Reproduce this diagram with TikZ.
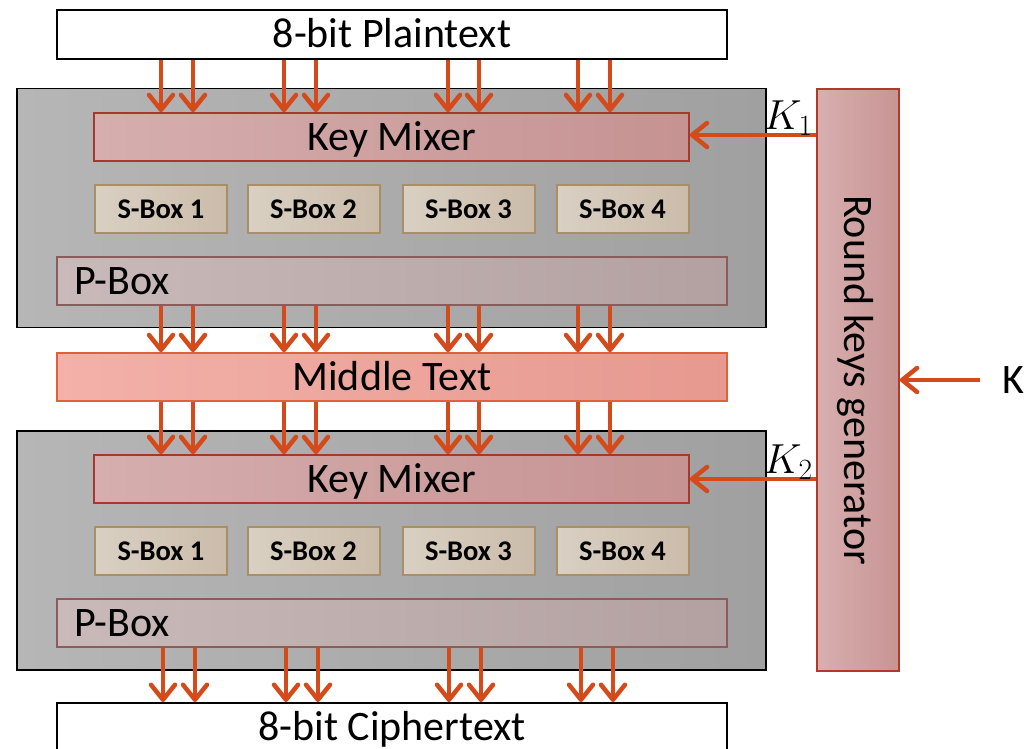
\RequirePackage{fix-cm}
\documentclass[tikz,border=0pt]{standalone}
\usepackage{fontspec}
\setmainfont{Carlito}
\usetikzlibrary{arrows.meta}
\definecolor{arrowc}{HTML}{D44A1A}
\definecolor{grayL}{HTML}{B6B6B6}
\definecolor{grayR}{HTML}{A0A0A0}
\definecolor{kmL}{HTML}{D6AEAE}
\definecolor{kmR}{HTML}{C69292}
\definecolor{kmB}{HTML}{A8382A}
\definecolor{sbL}{HTML}{D9D0C3}
\definecolor{sbR}{HTML}{CBBCAA}
\definecolor{sbB}{HTML}{A88F68}
\definecolor{pbL}{HTML}{C9B9B9}
\definecolor{pbR}{HTML}{B3A1A1}
\definecolor{pbB}{HTML}{8B5C5C}
\definecolor{mdL}{HTML}{F3B1A9}
\definecolor{mdR}{HTML}{E6998F}
\definecolor{mdB}{HTML}{E0603A}
\definecolor{rkL}{HTML}{D8AFAF}
\definecolor{rkR}{HTML}{C89494}
\definecolor{rkB}{HTML}{B0392A}
\begin{document}
\begin{tikzpicture}[x=1pt,y=-1pt,
  big/.style={font=\fontsize{42}{50}\selectfont, text height=26.5pt, text depth=0pt, inner sep=0pt},
  sbfont/.style={font=\fontsize{28.5}{34}\selectfont\bfseries, text height=18pt, text depth=0pt, inner sep=0pt},
  plainbox/.style={draw=black, line width=2pt, fill=white, minimum width=670pt, minimum height=49pt, inner sep=0pt, big},
  graybox/.style={draw=black, line width=1.6pt, left color=grayL, right color=grayR, minimum width=749pt, minimum height=239pt, inner sep=0pt},
  kmbox/.style={draw=kmB, line width=1.6pt, left color=kmL, right color=kmR, minimum width=595pt, minimum height=48pt, big},
  sbox/.style={draw=sbB, line width=2pt, left color=sbL, right color=sbR, minimum width=132pt, minimum height=48pt, sbfont},
  pbox/.style={draw=pbB, line width=1.6pt, left color=pbL, right color=pbR, minimum width=670pt, minimum height=48pt, inner sep=0pt},
  midbox/.style={draw=mdB, line width=1.6pt, left color=mdL, right color=mdR, minimum width=670pt, minimum height=48pt, big},
  rkbox/.style={draw=rkB, line width=1.6pt, left color=rkL, right color=rkR, minimum width=82pt, minimum height=582pt, inner sep=0pt},
  arr/.style={draw=arrowc, line width=4.5pt, -{Straight Barb[length=15pt,width=24pt,round]}},
  klab/.style={font=\fontsize{42}{50}\selectfont, inner sep=0pt}
]
\useasboundingbox (0,0) rectangle (1025,749);
\clip (0,0) rectangle (1025,749);

% Plaintext
\node[plainbox] (pt) at (392,34.5) {8-bit Plaintext};

% Round 1
\node[graybox] (r1) at (391.5,208) {};
\node[kmbox] (km1) at (391.5,137) {Key Mixer};
\node[sbox] (s11) at (161,209) {S-Box 1};
\node[sbox] (s12) at (313.5,209) {S-Box 2};
\node[sbox] (s13) at (468.5,209) {S-Box 3};
\node[sbox] (s14) at (622.5,209) {S-Box 4};
\node[pbox] (pb1) at (392,281) {};
\node[big, anchor=west] (pl1) at ([xshift=18pt]pb1.west) {P-Box};

% Middle
\node[midbox] (mid) at (392,377) {Middle Text};

% Round 2
\node[graybox] (r2) at (391.5,550.5) {};
\node[kmbox] (km2) at (391.5,479) {Key Mixer};
\node[sbox] (s21) at (161,551) {S-Box 1};
\node[sbox] (s22) at (313.5,551) {S-Box 2};
\node[sbox] (s23) at (468.5,551) {S-Box 3};
\node[sbox] (s24) at (622.5,551) {S-Box 4};
\node[pbox] (pb2) at (392,623) {};
\node[big, anchor=west] (pl2) at ([xshift=18pt]pb2.west) {P-Box};

% Ciphertext
\node[plainbox] (ct) at (392,727.5) {8-bit Ciphertext};

% Round keys generator
\node[rkbox] (rkg) at (858,380) {};
\node[big, rotate=-90] (rkt) at (rkg.center) {Round keys generator};

% Key input
\node[big] (k) at (1013,380) {K};
\coordinate (kin) at (980,380);
\draw[arr] (kin) -- (kin -| rkg.east);

% Round key arrows
\draw[arr] ([yshift=2pt]km1.east -| rkg.west) -- ([yshift=2pt]km1.east);
\draw[arr] (km2.east -| rkg.west) -- (km2.east);
\node[klab] (k1) at (788,118) {$K_1$};
\node[klab] (k2) at (788,462) {$K_2$};

% Data arrows
\foreach \x in {161,193,284,316,448,479,578,610} {
  \draw[arr] (\x,0 |- pt.south) -- (\x,0 |- km1.north);
  \draw[arr] (\x,0 |- pb1.south) -- (\x,0 |- mid.north);
  \draw[arr] (\x,0 |- mid.south) -- (\x,0 |- km2.north);
}
\foreach \x in {163,195,286,318,449,481,581,613} {
  \draw[arr] (\x,0 |- pb2.south) -- (\x,0 |- ct.north);
}
\end{tikzpicture}
\end{document}
